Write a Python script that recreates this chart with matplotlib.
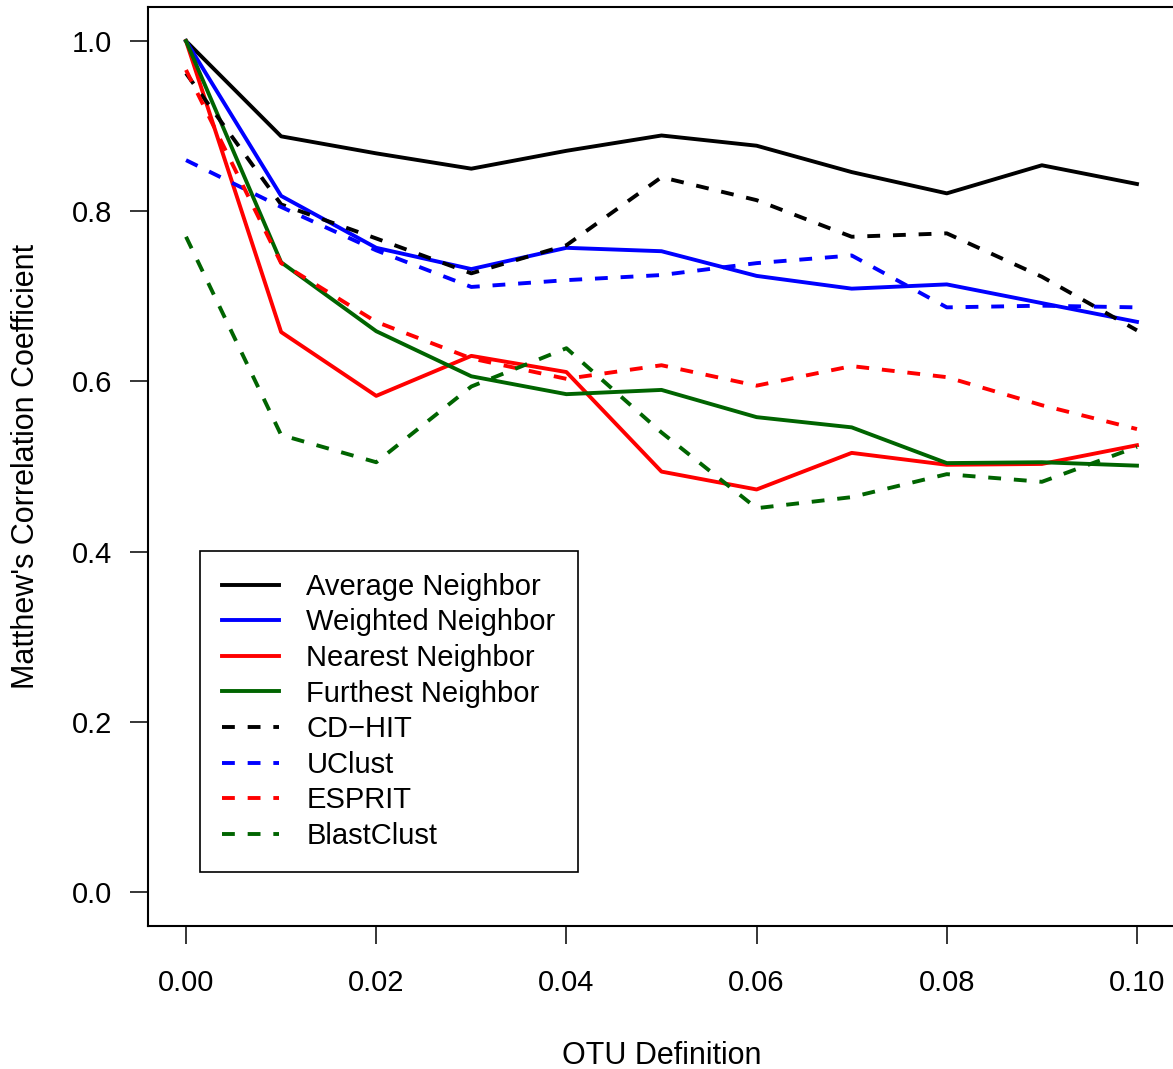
import matplotlib
matplotlib.use('Agg')
import matplotlib.pyplot as plt

plt.rcParams['font.family'] = ['Liberation Sans', 'DejaVu Sans']

otu = [0.00, 0.01, 0.02, 0.03, 0.04, 0.05, 0.06, 0.07, 0.08, 0.09, 0.10]

average_nb = [1.000, 0.888, 0.868, 0.850, 0.871, 0.889, 0.877, 0.846, 0.821, 0.854, 0.832]
weighted_nb = [1.000, 0.818, 0.757, 0.732, 0.757, 0.753, 0.724, 0.709, 0.714, 0.692, 0.670]
nearest_nb = [1.000, 0.658, 0.583, 0.630, 0.611, 0.494, 0.473, 0.516, 0.502, 0.503, 0.525]
furthest_nb = [1.000, 0.740, 0.659, 0.606, 0.585, 0.590, 0.558, 0.546, 0.504, 0.505, 0.501]
cdhit = [0.962, 0.808, 0.768, 0.727, 0.760, 0.840, 0.813, 0.770, 0.774, 0.723, 0.660]
uclust = [0.860, 0.805, 0.754, 0.711, 0.719, 0.725, 0.739, 0.748, 0.687, 0.689, 0.687]
esprit = [0.966, 0.739, 0.670, 0.627, 0.603, 0.619, 0.595, 0.618, 0.605, 0.572, 0.544]
blastclust = [0.770, 0.537, 0.505, 0.594, 0.639, 0.540, 0.451, 0.464, 0.491, 0.482, 0.523]

series = [
    ('Average Neighbor', average_nb, 'black', '-'),
    ('Weighted Neighbor', weighted_nb, 'blue', '-'),
    ('Nearest Neighbor', nearest_nb, 'red', '-'),
    ('Furthest Neighbor', furthest_nb, '#006400', '-'),
    ('CD\u2212HIT', cdhit, 'black', '--'),
    ('UClust', uclust, 'blue', '--'),
    ('ESPRIT', esprit, 'red', '--'),
    ('BlastClust', blastclust, '#006400', '--'),
]

W, H = 1173, 1069
fig = plt.figure(figsize=(W / 100, H / 100), dpi=100)
ax = fig.add_axes([148 / W, (H - 926) / H, 1027 / W, 919 / H])

for name, vals, col, ls in series:
    line, = ax.plot(otu, vals, color=col, lw=2.8, label=name)
    if ls == '--':
        line.set_dashes([3.3, 3.3])
        line.set_dash_capstyle('butt')

ax.set_xlim(-0.004, 0.104)
ax.set_ylim(-0.04, 1.04)
ax.set_xticks([0.00, 0.02, 0.04, 0.06, 0.08, 0.10])
ax.set_xticklabels(['0.00', '0.02', '0.04', '0.06', '0.08', '0.10'])
ax.set_yticks([0.0, 0.2, 0.4, 0.6, 0.8, 1.0])
ax.set_yticklabels(['0.0', '0.2', '0.4', '0.6', '0.8', '1.0'])
ax.tick_params(axis='x', length=13, width=1.1, labelsize=21, pad=18)
ax.tick_params(axis='y', length=13, width=1.1, labelsize=21, pad=13)
for s in ax.spines.values():
    s.set_linewidth(1.5)

ax.set_xlabel('OTU Definition', fontsize=22)
ax.set_ylabel("Matthew's Correlation Coefficient", fontsize=22)
ax.xaxis.set_label_coords(0.5, -0.125)
ax.yaxis.set_label_coords(-0.104, 0.5)

leg = ax.legend(loc='upper left', bbox_to_anchor=((200 - 148) / 1027, (926 - 551) / 919),
                borderaxespad=0, fontsize=21, handlelength=1.95, handletextpad=0.95,
                labelspacing=0.26, borderpad=0.75, fancybox=False, framealpha=1,
                edgecolor='black')
leg.get_frame().set_linewidth(1.2)

fig.savefig('out.png', dpi=100)
